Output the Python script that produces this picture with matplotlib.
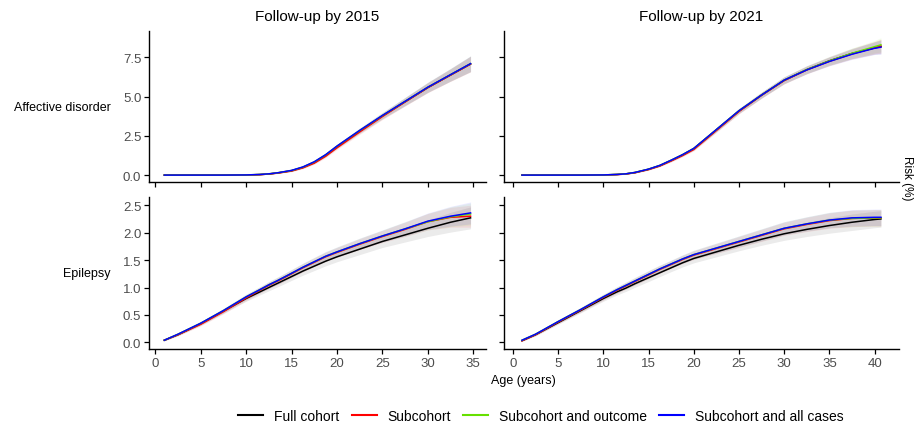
import numpy as np
import matplotlib
matplotlib.use('Agg')
import matplotlib.pyplot as plt

plt.rcParams['font.family'] = ['Liberation Sans', 'DejaVu Sans']

series = ('Full cohort', 'Subcohort', 'Subcohort and outcome', 'Subcohort and all cases')
colors = ('black', '#FF0000', '#66E000', '#0000FF')

age15 = [1, 2.5, 5, 7.5, 10, 11.5, 12.5, 13.5, 15, 16.25, 17.5, 18.75, 20, 22.5, 25, 27.5, 30, 32.5, 34.7]
age21 = [1, 2.5, 5, 7.5, 10, 11.5, 12.5, 13.5, 15, 16.25, 17.5, 18.75, 20, 22.5, 25, 27.5, 30, 32.5, 35, 37.5, 40, 40.7]

# affective disorder, follow-up by 2015
aff15 = {
    'Full cohort':             [0, 0, 0, 0, 0.01, 0.03, 0.07, 0.14, 0.28, 0.49, 0.80, 1.25, 1.80, 2.80, 3.77, 4.68, 5.58, 6.38, 7.08],
    'Subcohort':               [0, 0, 0, 0, 0.01, 0.03, 0.07, 0.13, 0.26, 0.46, 0.76, 1.20, 1.74, 2.75, 3.73, 4.66, 5.57, 6.37, 7.07],
    'Subcohort and outcome':   [0, 0, 0, 0, 0.01, 0.04, 0.08, 0.15, 0.29, 0.51, 0.84, 1.29, 1.84, 2.84, 3.79, 4.70, 5.60, 6.40, 7.10],
    'Subcohort and all cases': [0, 0, 0, 0, 0.01, 0.04, 0.08, 0.15, 0.30, 0.52, 0.85, 1.30, 1.85, 2.85, 3.80, 4.70, 5.60, 6.40, 7.10],
}
aff15_ci = [0, 0, 0, 0, 0.01, 0.01, 0.02, 0.03, 0.05, 0.06, 0.08, 0.10, 0.12, 0.16, 0.20, 0.26, 0.32, 0.40, 0.50]

# affective disorder, follow-up by 2021
aff21 = {
    'Full cohort':             [0, 0, 0, 0, 0.01, 0.04, 0.08, 0.16, 0.37, 0.60, 0.93, 1.28, 1.68, 2.88, 4.08, 5.10, 6.04, 6.72, 7.28, 7.75, 8.10, 8.18],
    'Subcohort':               [0, 0, 0, 0, 0.01, 0.03, 0.07, 0.15, 0.35, 0.58, 0.90, 1.24, 1.63, 2.84, 4.05, 5.08, 6.02, 6.70, 7.25, 7.72, 8.12, 8.22],
    'Subcohort and outcome':   [0, 0, 0, 0, 0.01, 0.04, 0.08, 0.17, 0.38, 0.62, 0.95, 1.30, 1.70, 2.90, 4.10, 5.10, 6.05, 6.72, 7.27, 7.76, 8.18, 8.30],
    'Subcohort and all cases': [0, 0, 0, 0, 0.01, 0.04, 0.08, 0.17, 0.38, 0.62, 0.95, 1.30, 1.70, 2.90, 4.10, 5.10, 6.05, 6.70, 7.24, 7.70, 8.08, 8.15],
}
aff21_ci = [0, 0, 0, 0, 0.01, 0.01, 0.02, 0.03, 0.04, 0.05, 0.07, 0.08, 0.10, 0.13, 0.16, 0.19, 0.22, 0.25, 0.28, 0.33, 0.40, 0.45]

# epilepsy, follow-up by 2015
epi15 = {
    'Full cohort':             [0.04, 0.14, 0.34, 0.57, 0.80, 0.92, 1.00, 1.08, 1.20, 1.30, 1.39, 1.48, 1.56, 1.70, 1.84, 1.96, 2.08, 2.19, 2.27],
    'Subcohort':               [0.04, 0.14, 0.33, 0.56, 0.81, 0.95, 1.04, 1.12, 1.25, 1.36, 1.46, 1.56, 1.64, 1.79, 1.93, 2.06, 2.20, 2.28, 2.30],
    'Subcohort and outcome':   [0.04, 0.15, 0.35, 0.58, 0.83, 0.96, 1.05, 1.13, 1.26, 1.37, 1.47, 1.57, 1.65, 1.80, 1.94, 2.07, 2.20, 2.29, 2.34],
    'Subcohort and all cases': [0.04, 0.15, 0.35, 0.58, 0.83, 0.96, 1.05, 1.13, 1.26, 1.37, 1.47, 1.57, 1.65, 1.80, 1.94, 2.07, 2.21, 2.30, 2.36],
}
epi15_ci = [0.01, 0.02, 0.03, 0.04, 0.05, 0.055, 0.06, 0.065, 0.07, 0.075, 0.08, 0.085, 0.09, 0.10, 0.11, 0.13, 0.15, 0.18, 0.20]

# epilepsy, follow-up by 2021
epi21 = {
    'Full cohort':             [0.03, 0.14, 0.36, 0.58, 0.80, 0.92, 0.99, 1.07, 1.18, 1.27, 1.36, 1.45, 1.53, 1.65, 1.77, 1.88, 1.98, 2.06, 2.13, 2.19, 2.24, 2.25],
    'Subcohort':               [0.03, 0.14, 0.37, 0.59, 0.82, 0.95, 1.03, 1.11, 1.23, 1.33, 1.42, 1.51, 1.59, 1.71, 1.83, 1.95, 2.07, 2.15, 2.22, 2.26, 2.27, 2.27],
    'Subcohort and outcome':   [0.04, 0.15, 0.38, 0.60, 0.83, 0.96, 1.04, 1.12, 1.24, 1.34, 1.43, 1.52, 1.60, 1.72, 1.84, 1.96, 2.08, 2.16, 2.23, 2.26, 2.27, 2.27],
    'Subcohort and all cases': [0.04, 0.15, 0.38, 0.60, 0.83, 0.96, 1.04, 1.12, 1.24, 1.34, 1.43, 1.52, 1.60, 1.72, 1.84, 1.96, 2.08, 2.16, 2.23, 2.27, 2.28, 2.28],
}
epi21_ci = [0.01, 0.02, 0.03, 0.04, 0.05, 0.055, 0.06, 0.065, 0.07, 0.07, 0.07, 0.075, 0.08, 0.09, 0.10, 0.11, 0.12, 0.13, 0.14, 0.15, 0.15, 0.15]

W, H = 914, 427
fig = plt.figure(figsize=(W / 100, H / 100), dpi=100)

def px(l, t, r, b):
    return [l / W, 1 - b / H, (r - l) / W, (b - t) / H]

ax_tl = fig.add_axes(px(149, 32, 486, 183))
ax_tr = fig.add_axes(px(504, 32, 899, 183))
ax_bl = fig.add_axes(px(149, 198, 486, 350))
ax_br = fig.add_axes(px(504, 198, 899, 350))

panels = [
    (ax_tl, age15, aff15, aff15_ci),
    (ax_tr, age21, aff21, aff21_ci),
    (ax_bl, age15, epi15, epi15_ci),
    (ax_br, age21, epi21, epi21_ci),
]

for ax, age, data, ci in panels:
    ci = np.array(ci)
    for name, c in zip(series, colors):
        y = np.array(data[name])
        ax.fill_between(age, y - ci, y + ci, color=c, alpha=0.08, lw=0)
    for name, c in zip(series, colors):
        ax.plot(age, data[name], color=c, lw=1.1)
    for s in ('top', 'right'):
        ax.spines[s].set_visible(False)
    for s in ('left', 'bottom'):
        ax.spines[s].set_linewidth(1.0)
    ax.tick_params(length=3.5, width=0.9, colors='black', labelcolor='#4D4D4D', labelsize=9.5, pad=2)

for ax in (ax_tl, ax_bl):
    ax.set_xlim(-0.69, 36.4)
    ax.set_xticks(np.arange(0, 36, 5))
for ax in (ax_tr, ax_br):
    ax.set_xlim(-0.99, 42.7)
    ax.set_xticks(np.arange(0, 41, 5))
for ax in (ax_tl, ax_tr):
    ax.set_ylim(-0.44, 9.18)
    ax.set_yticks([0, 2.5, 5, 7.5])
    ax.set_yticklabels(['0.0', '2.5', '5.0', '7.5'])
    ax.tick_params(axis='x', labelbottom=False)
for ax in (ax_bl, ax_br):
    ax.set_ylim(-0.12, 2.65)
    ax.set_yticks([0, 0.5, 1, 1.5, 2, 2.5])
    ax.set_yticklabels(['0.0', '0.5', '1.0', '1.5', '2.0', '2.5'])
for ax in (ax_tr, ax_br):
    ax.tick_params(axis='y', labelleft=False)

ax_tl.set_title('Follow-up by 2015', fontsize=11, pad=8)
ax_tr.set_title('Follow-up by 2021', fontsize=11, pad=8)

fig.text(111 / W, 1 - 108 / H, 'Affective disorder', ha='right', va='center', fontsize=9)
fig.text(111 / W, 1 - 274 / H, 'Epilepsy', ha='right', va='center', fontsize=9)
fig.text(491 / W, 1 - 381 / H, 'Age (years)', ha='left', va='center', fontsize=9)
fig.text(901 / W, 1 - 178 / H, 'Risk (%)', ha='left', va='center', rotation=270, fontsize=8.5)

handles = [plt.Line2D([], [], color=c, lw=1.5) for c in colors]
fig.legend(handles, series, loc='center', bbox_to_anchor=(541 / W, 1 - 417 / H), ncol=4,
           frameon=False, fontsize=10, handlelength=1.8, handletextpad=0.8, columnspacing=0.85)

fig.savefig('out.png', dpi=100)
